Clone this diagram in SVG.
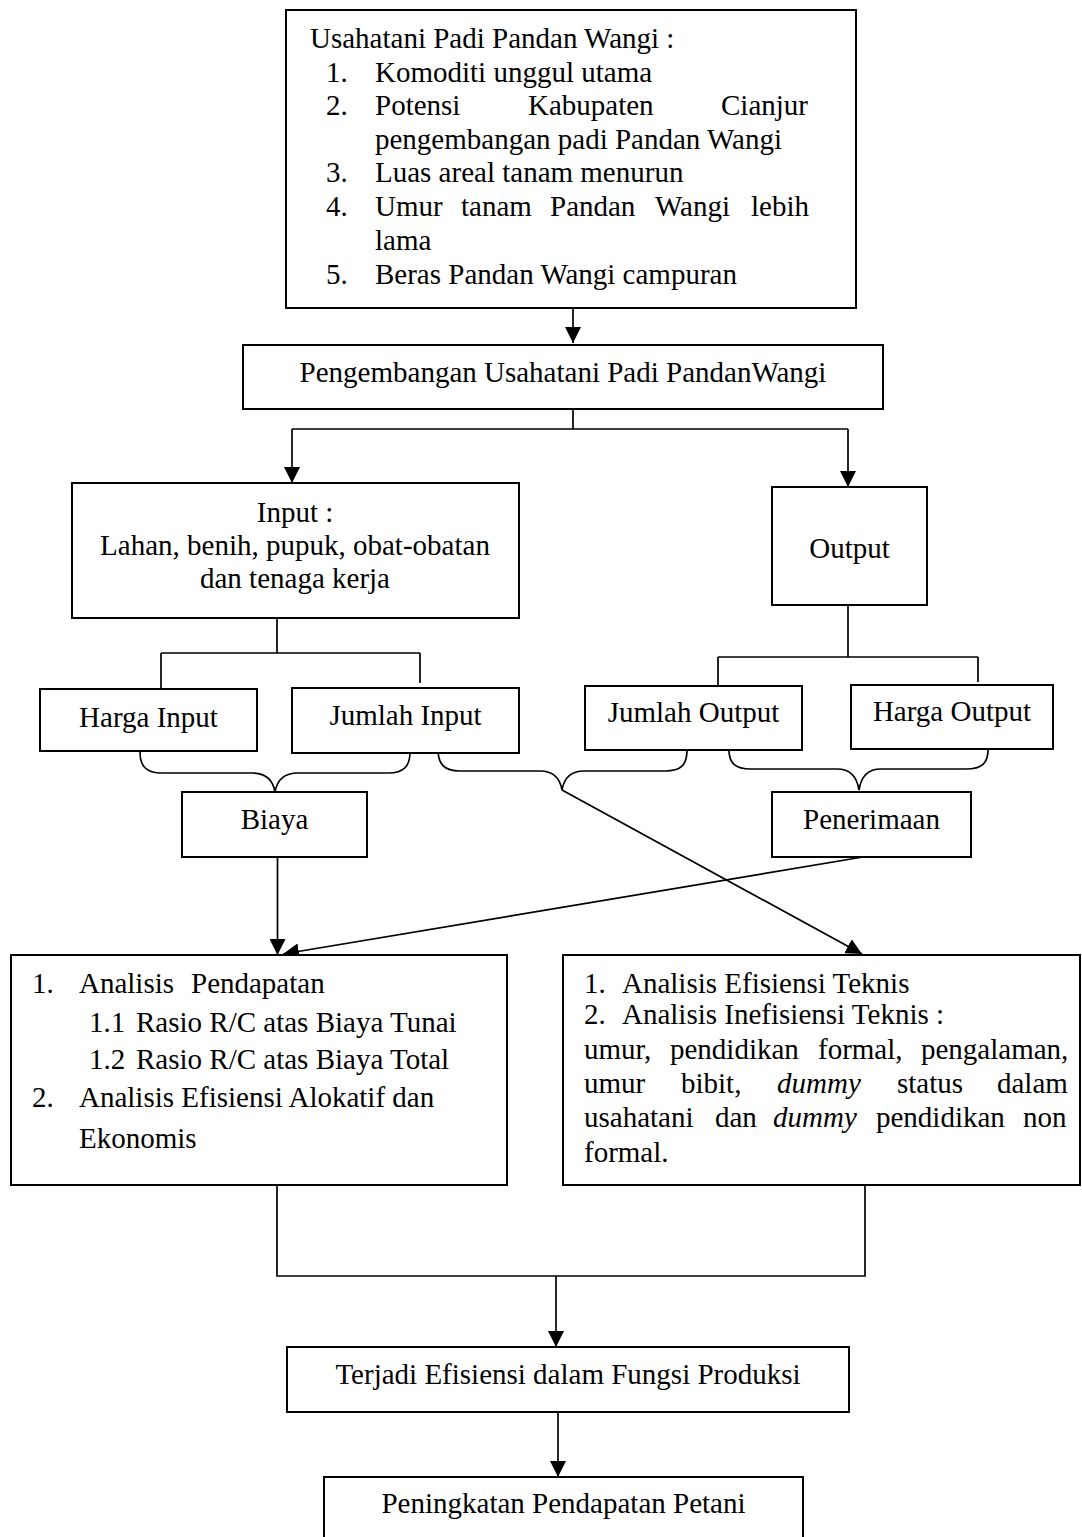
<svg xmlns="http://www.w3.org/2000/svg" width="1082" height="1537" viewBox="0 0 1082 1537">
<style>
.box{fill:#fff;stroke:#000;stroke-width:2}
.ln{fill:none;stroke:#000;stroke-width:1.7}
text{font-family:"Liberation Serif","Times New Roman",serif;font-size:29px;fill:#000}
.c{text-anchor:middle}
.i{font-style:italic}
</style>
<defs>
<marker id="ah" viewBox="0 0 16 16" refX="16" refY="8" markerWidth="16" markerHeight="16" markerUnits="userSpaceOnUse" orient="auto">
<path d="M0,0 L16,8 L0,16 z" fill="#000"/>
</marker>
</defs>
<rect width="1082" height="1537" fill="#fff"/>

<g id="connectors">
<path class="ln" d="M573,308 V343" marker-end="url(#ah)"/>
<path class="ln" d="M573,409 V429 M292,429 H848"/>
<path class="ln" d="M292,429 V483" marker-end="url(#ah)"/>
<path class="ln" d="M848,429 V487" marker-end="url(#ah)"/>
<path class="ln" d="M277,604 V653 M161,653 H420 M161,653 V689 M420,653 V683"/>
<path class="ln" d="M848,605 V657 M718,657 H978 M718,657 V686 M978,657 V682"/>
<path class="ln" d="M140,752 C140,766 146,773 162,773 L252,773 C266,773 273,780 275,792 C277,780 284,773 298,773 L388,773 C404,773 410,766 410,752"/>
<path class="ln" d="M438,749 C438,764 444,771 460,771 L540,771 C554,771 560,778 562,790 C564,778 570,771 584,771 L665,771 C681,771 687,765 687,750"/>
<path class="ln" d="M729,750 C729,763 735,769 751,769 L837,769 C851,769 857,777 859,790 C861,777 867,769 881,769 L966,769 C982,769 988,763 988,750"/>
<path class="ln" d="M277.5,857 V955" marker-end="url(#ah)"/>
<path class="ln" d="M863,857 L283,954" marker-end="url(#ah)"/>
<path class="ln" d="M562,790 L862,954" marker-end="url(#ah)"/>
<path class="ln" d="M277,1185 V1276 H865 V1185"/>
<path class="ln" d="M556,1276 V1347" marker-end="url(#ah)"/>
<path class="ln" d="M558,1412 V1477" marker-end="url(#ah)"/>
</g>

<g id="n-top">
<rect class="box" x="286" y="10" width="570" height="298"/>
<text x="310" y="48">Usahatani Padi Pandan Wangi :</text>
<text x="326" y="81.5">1.</text><text x="375" y="81.5">Komoditi unggul utama</text>
<text x="326" y="115">2.</text><text y="115"><tspan x="375">Potensi</tspan><tspan x="528">Kabupaten</tspan><tspan x="721">Cianjur</tspan></text>
<text x="375" y="148.5">pengembangan padi Pandan Wangi</text>
<text x="326" y="182">3.</text><text x="375" y="182">Luas areal tanam menurun</text>
<text x="326" y="216">4.</text><text y="216"><tspan x="375">Umur</tspan><tspan x="461">tanam</tspan><tspan x="550">Pandan</tspan><tspan x="655">Wangi</tspan><tspan x="751">lebih</tspan></text>
<text x="375" y="250">lama</text>
<text x="326" y="283.5">5.</text><text x="375" y="283.5">Beras Pandan Wangi campuran</text>
</g>

<g id="n-pengembangan">
<rect class="box" x="243" y="345" width="640" height="64"/>
<text class="c" x="563" y="382">Pengembangan Usahatani Padi PandanWangi</text>
</g>

<g id="n-input">
<rect class="box" x="72" y="483" width="447" height="135"/>
<text class="c" x="295" y="522">Input :</text>
<text class="c" x="295" y="555">Lahan, benih, pupuk, obat-obatan</text>
<text class="c" x="295" y="588">dan tenaga kerja</text>
</g>

<g id="n-output">
<rect class="box" x="772" y="487" width="155" height="118"/>
<text class="c" x="849.5" y="558">Output</text>
</g>

<g id="n-harga-input">
<rect class="box" x="40" y="689" width="217" height="62"/>
<text class="c" x="148.5" y="727">Harga Input</text>
</g>

<g id="n-jumlah-input">
<rect class="box" x="292" y="688" width="227" height="65"/>
<text class="c" x="405.5" y="725">Jumlah Input</text>
</g>

<g id="n-jumlah-output">
<rect class="box" x="585" y="686" width="217" height="64"/>
<text class="c" x="693.5" y="722">Jumlah Output</text>
</g>

<g id="n-harga-output">
<rect class="box" x="851" y="685" width="202" height="64"/>
<text class="c" x="952" y="721">Harga Output</text>
</g>

<g id="n-biaya">
<rect class="box" x="182" y="792" width="185" height="65"/>
<text class="c" x="274.5" y="829">Biaya</text>
</g>

<g id="n-penerimaan">
<rect class="box" x="772" y="792" width="199" height="65"/>
<text class="c" x="871.5" y="829">Penerimaan</text>
</g>

<g id="n-analisis-pendapatan">
<rect class="box" x="11" y="955" width="496" height="230"/>
<text x="32" y="993">1.</text><text y="993"><tspan x="79">Analisis</tspan><tspan x="191">Pendapatan</tspan></text>
<text x="89" y="1032">1.1</text><text x="136" y="1032">Rasio R/C atas Biaya Tunai</text>
<text x="89" y="1069">1.2</text><text x="136" y="1069">Rasio R/C atas Biaya Total</text>
<text x="32" y="1107">2.</text><text x="79" y="1107">Analisis Efisiensi Alokatif dan</text>
<text x="79" y="1148">Ekonomis</text>
</g>

<g id="n-analisis-teknis">
<rect class="box" x="563" y="955" width="517" height="230"/>
<text x="584" y="993">1.</text><text x="622" y="993">Analisis Efisiensi Teknis</text>
<text x="584" y="1024">2.</text><text x="622" y="1024">Analisis Inefisiensi Teknis :</text>
<text y="1059"><tspan x="584">umur,</tspan><tspan x="670">pendidikan</tspan><tspan x="818">formal,</tspan><tspan x="921">pengalaman,</tspan></text>
<text y="1093"><tspan x="584">umur</tspan><tspan x="681">bibit,</tspan><tspan x="777" class="i">dummy</tspan><tspan x="897">status</tspan><tspan x="997">dalam</tspan></text>
<text y="1127"><tspan x="584">usahatani</tspan><tspan x="715">dan</tspan><tspan x="773" class="i">dummy</tspan><tspan x="876">pendidikan</tspan><tspan x="1023">non</tspan></text>
<text x="584" y="1162">formal.</text>
</g>

<g id="n-terjadi">
<rect class="box" x="287" y="1347" width="562" height="65"/>
<text class="c" x="568" y="1384">Terjadi Efisiensi dalam Fungsi Produksi</text>
</g>

<g id="n-peningkatan">
<rect class="box" x="324" y="1477" width="479" height="64"/>
<text class="c" x="563.5" y="1513">Peningkatan Pendapatan Petani</text>
</g>
</svg>
